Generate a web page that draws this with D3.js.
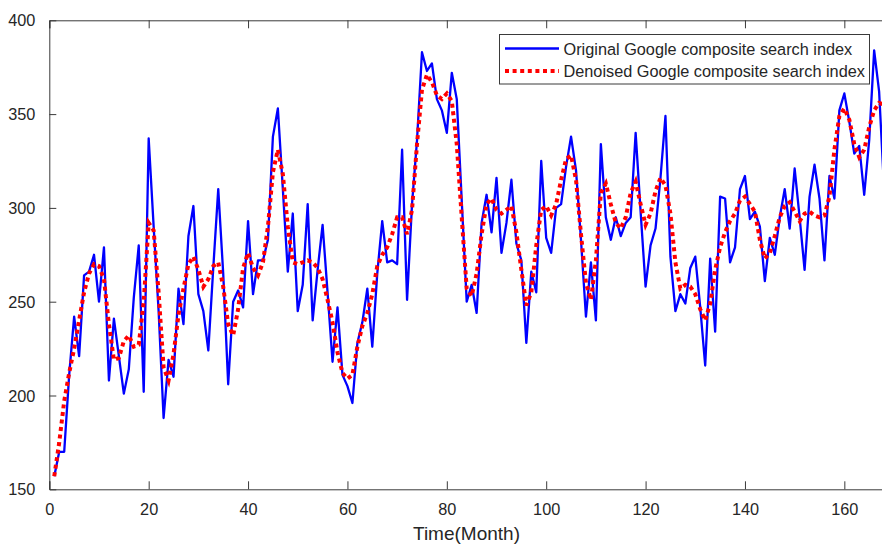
<!DOCTYPE html>
<html>
<head>
<meta charset="utf-8">
<script src="https://cdn.jsdelivr.net/npm/d3@7"></script>
<style>
  html, body { margin: 0; padding: 0; background: #fff; }
  svg { display: block; }
  text { font-family: "Liberation Sans", Arial, Helvetica, sans-serif; fill: #262626; }
</style>
</head>
<body>
<svg id="chart" width="882" height="545"></svg>
<script>
// ---- data ----
const seriesNames = ["Original Google composite search index", "Denoised Google composite search index"];
const xLabel = "Time(Month)";
const xTicks = [0, 20, 40, 60, 80, 100, 120, 140, 160];
const yTicks = [150, 200, 250, 300, 350, 400];

const original = [
  157,170,170,211,242,221,264,266,275,250,
  279,208,241,221,201,214,252,280,202,337,
  290,245,188,219,210,257,238,285,301,254,
  245,224,268,310,265,206,250,256,247,293,
  254,272,272,283,338,353,310,266,297,245,
  259,302,240,267,291,255,218,247,211,205,
  196,228,239,257,226,265,293,271,272,270,
  331,251,302,336,383,373,377,358,352,340,
  372,358,304,250,259,244,292,307,287,316,
  276,292,315,281,272,228,266,255,325,284,
  276,300,302,322,338,320,283,242,271,240,
  334,295,283,295,285,292,295,340,298,258,
  280,289,316,349,274,245,254,249,268,274,
  247,216,273,234,306,305,271,279,310,317,
  294,298,290,261,284,275,295,310,289,321,
  295,267,306,323,305,272,317,305,352,361,
  346,329,333,307,336,384,362,310
];
const denoised = [
  157,175,197,212,225,240,255,265,270,269,
  262,238,219,220,229,232,226,227,250,292,
  288,255,215,208,222,243,257,270,274,267,
  258,262,269,271,258,238,232,246,268,276,
  268,264,271,290,319,331,318,290,271,270,
  271,272,271,268,262,251,239,223,212,209,
  211,226,237,244,254,269,275,279,286,295,
  295,286,299,334,363,371,367,360,358,361,
  357,334,295,257,253,265,286,302,305,299,
  297,299,301,287,267,248,255,280,299,301,
  296,302,315,326,328,315,286,260,251,272,
  308,313,302,292,289,295,308,314,302,291,
  297,309,316,312,297,271,257,259,258,254,
  246,240,249,267,279,287,293,297,304,306,
  302,298,283,273,276,285,295,301,303,298,
  293,297,298,296,295,296,306,331,349,353,
  347,334,327,331,343,352,356,355
];
const months = original.map((d, i) => i + 1);

// ---- layout ----
const svg = d3.select("#chart");
const plotLeft = 49.3, plotTop = 20.3, plotBottom = 489.3;
const pxPerMonth = 4.969;
const x = d3.scaleLinear().domain([0, 172]).range([plotLeft, plotLeft + 172 * pxPerMonth]);
const y = d3.scaleLinear().domain([150, 400]).range([plotBottom, plotTop]);
const axisColor = "#3a3a3a";

// lines
const makeLine = (vals) => d3.line().x((d, i) => x(months[i])).y(d => y(d))(vals);

svg.append("path")
  .attr("d", makeLine(original))
  .attr("fill", "none")
  .attr("stroke", "#0000ff")
  .attr("stroke-width", 2.3)
  .attr("stroke-linejoin", "round");

svg.append("path")
  .attr("d", makeLine(denoised))
  .attr("fill", "none")
  .attr("stroke", "#ff0000")
  .attr("stroke-width", 4)
  .attr("stroke-dasharray", "4 3.6");

// axes (ticks inward, box)
const xAxisB = d3.axisBottom(x).tickValues(xTicks).tickSize(-8).tickPadding(14).tickFormat(d3.format("d"));
const xAxisT = d3.axisTop(x).tickValues(xTicks).tickSize(-8).tickFormat("");
const yAxisL = d3.axisLeft(y).tickValues(yTicks).tickSize(-7).tickPadding(14).tickFormat(d3.format("d"));

const gB = svg.append("g").attr("transform", `translate(0,${plotBottom})`).call(xAxisB);
const gT = svg.append("g").attr("transform", `translate(0,${plotTop})`).call(xAxisT);
const gL = svg.append("g").attr("transform", `translate(${plotLeft},0)`).call(yAxisL);

[gB, gT, gL].forEach(g => {
  g.select(".domain").attr("stroke", axisColor).attr("stroke-width", 1);
  g.selectAll(".tick line").attr("stroke", axisColor).attr("stroke-width", 1);
  g.selectAll(".tick text")
    .attr("fill", "#262626")
    .style("font-size", "16.3px")
    .style("font-family", "'Liberation Sans', Arial, sans-serif");
});
gL.selectAll(".tick line").filter(d => d === 400 || d === 150).remove();
gL.selectAll(".tick text").attr("dy", "0.34em");

// x label
svg.append("text")
  .attr("x", 466.5)
  .attr("y", 540)
  .attr("text-anchor", "middle")
  .style("font-size", "19px")
  .text(xLabel);

// legend
const lg = svg.append("g");
lg.append("rect")
  .attr("x", 499.5).attr("y", 34.5)
  .attr("width", 370).attr("height", 49.5)
  .attr("fill", "#fff")
  .attr("stroke", axisColor).attr("stroke-width", 1);
const legendItems = [
  { name: seriesNames[0], color: "#0000ff", w: 2.3, dash: null, yy: 48.5 },
  { name: seriesNames[1], color: "#ff0000", w: 4, dash: "4 3.6", yy: 71 }
];
legendItems.forEach(it => {
  const l = lg.append("line")
    .attr("x1", 505).attr("x2", 559)
    .attr("y1", it.yy).attr("y2", it.yy)
    .attr("stroke", it.color).attr("stroke-width", it.w);
  if (it.dash) l.attr("stroke-dasharray", it.dash);
  lg.append("text")
    .attr("x", 563.5).attr("y", it.yy + 6)
    .style("font-size", "16.3px")
    .attr("fill", "#000")
    .text(it.name);
});
</script>
</body>
</html>
